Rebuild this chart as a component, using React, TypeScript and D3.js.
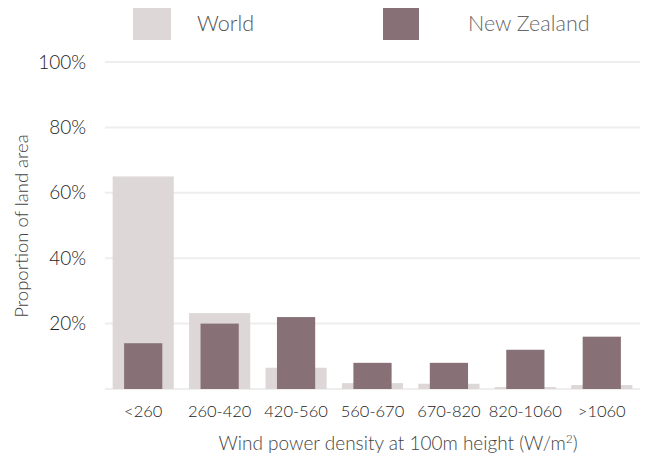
import * as d3 from 'd3';

const categories = ['<260', '260-420', '420-560', '560-670', '670-820', '820-1060', '>1060'];
const worldValues = [65, 23.2, 6.5, 1.8, 1.6, 0.6, 1.2];
const nzValues = [14, 20, 22, 8, 8, 12, 16];
const yTicks = [0, 20, 40, 60, 80, 100];

const WORLD = '#ddd7d8';
const NZ = '#877176';

const App = () => {
  const width = 645;
  const height = 461;
  const left = 105;
  const right = 640;
  const top = 62;
  const bottom = 389;
  const font = 'Lato, "Open Sans", sans-serif';

  const x = d3.scaleBand<string>().domain(categories).range([left, right]);
  const y = d3.scaleLinear().domain([0, 100]).range([bottom, top]);
  const step = x.step();
  const worldW = step * 0.8;
  const nzW = step * 0.5;

  return (
    <svg width={width} height={height} style={{ position: 'absolute', left: 0, top: 0 }}>
      <rect width={width} height={height} fill="#fff" />
      {/* legend */}
      <rect x={133} y={8} width={38} height={32} fill={WORLD} />
      <text x={197} y={31} fontFamily={font} fontSize={21.5} fill="#555" fontWeight={300}>World</text>
      <rect x={383} y={8} width={36} height={32} fill={NZ} />
      <text x={468} y={31} fontFamily={font} fontSize={21.5} fill="#666" fontWeight={300}>New Zealand</text>

      {/* grid */}
      {yTicks.map(t => (
        <g key={t}>
          <line x1={left} x2={right} y1={y(t)} y2={y(t)} stroke="#eeeeee" strokeWidth={2} />
          {t > 0 && (
            <text x={86} y={y(t)} dy="0.35em" textAnchor="end" fontFamily={font} fontSize={19} fill="#222" fontWeight={300}>
              {t}%
            </text>
          )}
        </g>
      ))}

      {/* world bars */}
      {categories.map((c, i) => (
        <rect key={'w' + c} x={x(c)! + (step - worldW) / 2} y={y(worldValues[i])} width={worldW}
          height={bottom - y(worldValues[i])} fill={WORLD} />
      ))}
      {/* nz bars */}
      {categories.map((c, i) => (
        <rect key={'n' + c} x={x(c)! + (step - nzW) / 2} y={y(nzValues[i])} width={nzW}
          height={bottom - y(nzValues[i])} fill={NZ} />
      ))}

      {/* x tick labels */}
      {categories.map(c => (
        <text key={'t' + c} x={x(c)! + step / 2} y={417} textAnchor="middle" fontFamily={font} fontSize={16.5}
          fill="#222" fontWeight={300}>{c}</text>
      ))}

      {/* axis titles */}
      <text x={398} y={450} textAnchor="middle" fontFamily={font} fontSize={19} fill="#444" fontWeight={300}>
        Wind power density at 100m height (W/m<tspan dy={-7} fontSize={12}>2</tspan><tspan dy={7}>)</tspan>
      </text>
      <text transform={`translate(28,226) rotate(-90)`} textAnchor="middle" fontFamily={font} fontSize={18.5}
        fill="#444" fontWeight={300}>Proportion of land area</text>
    </svg>
  );
};

export default App;
